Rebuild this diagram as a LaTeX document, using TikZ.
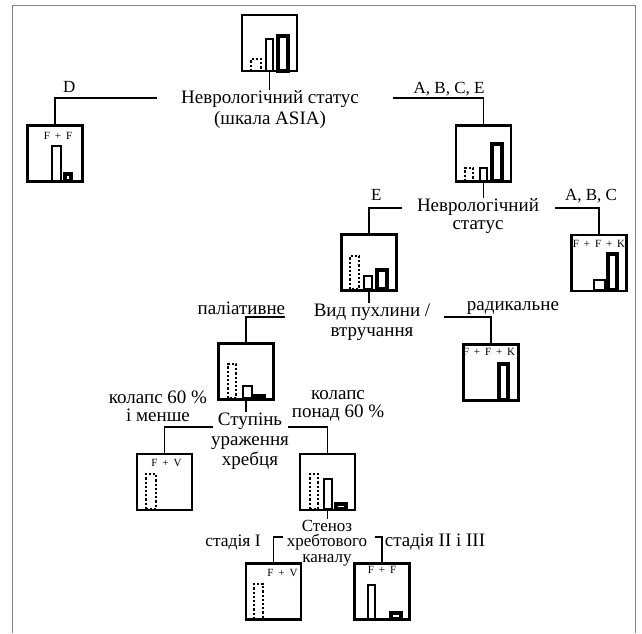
\documentclass[tikz,border=0pt]{standalone}
\usepackage{fontspec}
\setmainfont{Liberation Serif}
\usetikzlibrary{positioning}
\newcommand{\tagplus}{\hspace{.45em}+\hspace{.45em}}
\begin{document}
\begin{tikzpicture}
        [x = 1pt, y = -1pt,
            line width = 1.8pt,
            case/.style = {draw, line width=2.4pt, minimum width=55pt, minimum height=56pt, inner sep=0pt},
            cond/.style = {font=\fontsize{19}{20}\selectfont, align=center, inner sep=0pt},
            choice/.style = {font=\fontsize{19}{18}\selectfont, align=center, inner sep=1pt},
            latin/.style = {font=\fontsize{17}{18}\selectfont, inner sep=0pt, anchor=base},
            tag/.style = {font=\fontsize{11}{12}\selectfont, inner sep=0pt},
            dotbar/.style = {line width=2.4pt, dash pattern=on 2.2pt off 2pt},
            thinbar/.style = {line width=2pt},
            thickbar/.style = {line width=3.6pt}]

        \useasboundingbox (0,0) rectangle (642,633);
        \draw[gray, line width=0.8pt] (12,633) -- (12,5) -- (635,5) -- (635,633);

        % boxes
        \node[case] (root) at (269.5,43) {};
        \node[case] (leafD) at (55,153.5) {};
        \node[case] (nodeABCE) at (483.5,153.5) {};
        \node[case] (nodeE) at (369,262.5) {};
        \node[case] (leafABC) at (599,263) {};
        \node[case] (leafRad) at (491,372.5) {};
        \node[case] (nodePal) at (246,371.5) {};
        \node[case] (leafLow) at (164.5,482) {};
        \node[case] (nodeHigh) at (327.5,482) {};
        \node[case] (leafI) at (273.5,591.5) {};
        \node[case] (leafII) at (382,591.5) {};

        % questions
        \node[cond, font=\fontsize{19}{21}\selectfont, anchor=north] (asia) at (270,90) {Неврологічний статус\\(шкала ASIA)};
        \node[cond, font=\fontsize{19}{18}\selectfont, anchor=north] (neuro) at (478,198) {Неврологічний\\статус};
        \node[cond, anchor=north] (tumour) at (372,303) {Вид пухлини /\\втручання};
        \node[cond, anchor=north] (spine) at (250,412) {Ступінь\\ураження\\хребця};
        \node[cond, font=\fontsize{17}{15.5}\selectfont, anchor=north] (stenosis) at (327,519) {Стеноз\\хребтового\\каналу};

        \coordinate (asiaW) at (157,98);
        \coordinate (asiaE) at (393,98);
        \coordinate (neuroW) at (402,208);
        \coordinate (neuroE) at (555,208);
        \coordinate (tumW) at (285,317);
        \coordinate (tumE) at (444,317);
        \coordinate (spineW) at (213,427);
        \coordinate (spineE) at (288,427);
        \coordinate (stenW) at (283,537);
        \coordinate (stenE) at (375,537);

        \draw (root.south) -- (root.south |- asia.north);
        \draw (nodeABCE.south) -- (nodeABCE.south |- neuro.north);
        \draw (nodeE.south) -- (nodeE.south |- tumour.north);
        \draw (nodePal.south) -- (nodePal.south |- spine.north);
        \draw (nodeHigh.south) -- (nodeHigh.south |- stenosis.north);

        \draw (asiaW) -| node[latin, pos=.43, yshift=5.5pt] {D} (leafD.north);
        \draw (asiaE) -| node[latin, pos=.31, yshift=4.5pt] {A, B, C, E} (nodeABCE.north);
        \draw (neuroW) -| node[latin, pos=.39, yshift=7.5pt] {E} (nodeE.north);
        \draw (neuroE) -| node[latin, pos=.41, yshift=7.5pt] {A, B, C} (leafABC.north);
        \draw (tumW) -| (nodePal.north);
        \draw (tumE) -| (leafRad.north);
        \draw (spineW) -| (leafLow.north);
        \draw (spineE) -| (nodeHigh.north);
        \draw (stenW) -| (leafI.north);
        \draw (stenE) -| (leafII.north);

        % answers
        \node[choice, anchor=base east] (palLabel) at (287,314.5) {паліативне};
        \node[choice, anchor=base west] (radLabel) at (465,310.5) {радикальне};
        \node[choice] (lowLabel) at (158,406) {колапс 60 \%\\і менше};
        \node[choice] (highLabel) at (338,406) {колапс\\понад 60 \%};
        \node[choice, font=\fontsize{17.5}{18}\selectfont] (stageI) at (233,542) {стадія I};
        \node[choice] (stageII) at (435,542) {стадія II і III};

        % tags
        \node[tag, below=7pt of leafD.north, xshift=3pt] {F\tagplus F};
        \node[tag, below=6pt of leafABC.north] {F\tagplus F\tagplus K};
        \node[tag, below=4pt of leafRad.north, xshift=-2pt] {F\tagplus F\tagplus K};
        \node[tag, below=6pt of leafLow.north, xshift=2pt] {F\tagplus V};
        \node[tag, below=6pt of leafI.north, xshift=9pt] {F\tagplus V};
        \node[tag, below=3pt of leafII.north] {F\tagplus F};

        % bars
        \draw[dotbar] (251,71) rectangle (261,59);
        \draw[thinbar] (265.5,71) rectangle (272.5,38.5);
        \draw[thickbar] (278,71) rectangle (288,36);
        \draw[dotbar] (38,181) -- (47,181);
        \draw[thinbar] (51.5,181) rectangle (60.5,145.5);
        \draw[thickbar] (65,181) rectangle (71,174);
        \draw[dotbar] (465,181) rectangle (473,168);
        \draw[thinbar] (479.5,181) rectangle (486.5,167.5);
        \draw[thickbar] (492,181) rectangle (502,144);
        \draw[dotbar] (350,289) rectangle (359,256);
        \draw[thinbar] (363.5,289) rectangle (371.5,275.5);
        \draw[thickbar] (377,289) rectangle (387,270);
        \draw[thinbar] (593.5,290) rectangle (604.5,279.5);
        \draw[thickbar] (608,290) rectangle (617,254);
        \draw[thickbar] (499,400) rectangle (508,364);
        \draw[dotbar] (228,398) rectangle (236,364);
        \draw[thinbar] (242.5,398) rectangle (251.5,385.5);
        \draw[thickbar] (254,398) rectangle (264,396);
        \draw[dotbar] (146,509) rectangle (156,474);
        \draw[dotbar] (310,509) rectangle (318,474);
        \draw[thinbar] (323.5,509) rectangle (331.5,478.5);
        \draw[thickbar] (336,509) rectangle (346,504);
        \draw[dotbar] (254,619) rectangle (263,584);
        \draw[thinbar] (367.5,619) rectangle (374.5,584.5);
        \draw[thickbar] (391,619) rectangle (401,613);
    \end{tikzpicture}
\end{document}
